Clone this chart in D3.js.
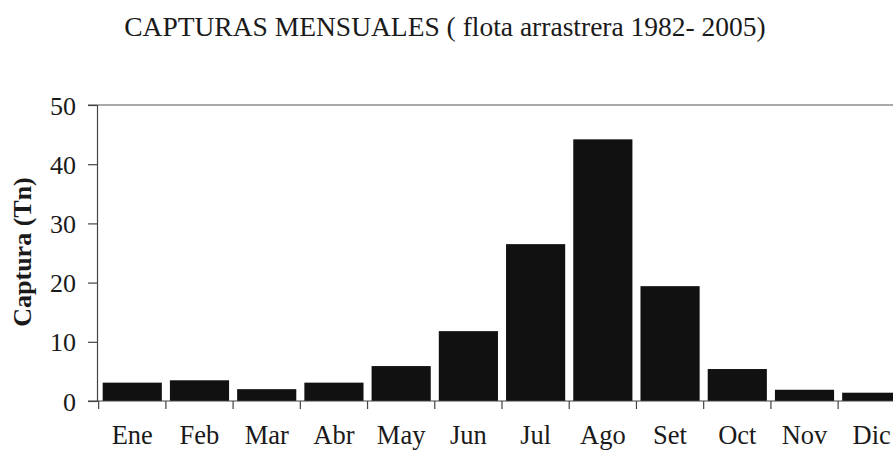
<!DOCTYPE html>
<html><head><meta charset="utf-8">
<script src="https://cdn.jsdelivr.net/npm/d3@7"></script>
<style>
html,body{margin:0;padding:0;background:#fff;overflow:hidden;}
text{font-family:"Liberation Serif","Times New Roman",serif;fill:#1a1a1a;}
</style></head>
<body>
<svg id="chart" width="893" height="453"></svg>
<script>
const months = ["Ene","Feb","Mar","Abr","May","Jun","Jul","Ago","Set","Oct","Nov","Dic"];
const captura = [3.1, 3.5, 2.0, 3.1, 5.9, 11.8, 26.5, 44.2, 19.4, 5.4, 1.9, 1.4];
const yTicks = [0, 10, 20, 30, 40, 50];
const title = "CAPTURAS MENSUALES ( flota arrastrera 1982- 2005)";
const yLabel = "Captura (Tn)";

const svg = d3.select("#chart");
const mLeft = 97, mRight = 904, mTop = 105, mBottom = 401;

const x = d3.scaleBand().domain(months).range([mLeft + 3, mRight]).paddingInner(0.12).paddingOuter(0.04);
const y = d3.scaleLinear().domain([0, 50]).range([mBottom, mTop]);

svg.append("text").attr("x", 445).attr("y", 36).attr("text-anchor", "middle")
  .style("font-size", "27.5px").text(title);

// top frame line
svg.append("line").attr("x1", mLeft - 9).attr("x2", 893).attr("y1", y(50)).attr("y2", y(50))
  .attr("stroke", "#555").attr("stroke-width", 1.2);

svg.selectAll("rect.bar").data(months).enter().append("rect").attr("class", "bar")
  .attr("x", d => x(d)).attr("width", x.bandwidth())
  .attr("y", (d, i) => y(captura[i])).attr("height", (d, i) => y(0) - y(captura[i]))
  .attr("fill", "#111");

// y axis
const ya = svg.append("g").attr("transform", `translate(${mLeft},0)`)
  .call(d3.axisLeft(y).tickValues(yTicks).tickSize(9).tickPadding(12));
ya.select(".domain").attr("stroke", "#444").attr("stroke-width", 1.2);
ya.selectAll(".tick line").attr("stroke", "#444").attr("stroke-width", 1.2);
ya.selectAll(".tick text").style("font-size", "26px").attr("dy", "0.35em")
  .attr("font-family", "Liberation Serif").attr("fill", "#1a1a1a");

// x axis with ticks between categories
const xa = svg.append("g").attr("transform", `translate(0,${mBottom})`);
xa.append("line").attr("x1", mLeft - 9).attr("x2", 893).attr("y1", 0).attr("y2", 0)
  .attr("stroke", "#444").attr("stroke-width", 1.2);
const step = x.step();
const bounds = months.map(d => x(d) - x.paddingInner() * step / 2);
xa.selectAll("line.tk").data(bounds).enter().append("line").attr("class", "tk")
  .attr("x1", d => d).attr("x2", d => d).attr("y1", 0).attr("y2", 8)
  .attr("stroke", "#444").attr("stroke-width", 1.2);
xa.selectAll("text.lbl").data(months).enter().append("text").attr("class", "lbl")
  .attr("x", d => x(d) + x.bandwidth() / 2).attr("y", 43).attr("text-anchor", "middle")
  .style("font-size", "26.5px").text(d => d);

svg.append("text").attr("transform", "translate(31,252) rotate(-90)").attr("text-anchor", "middle")
  .style("font-size", "26px").style("font-weight", "bold").text(yLabel);
</script>
</body></html>
